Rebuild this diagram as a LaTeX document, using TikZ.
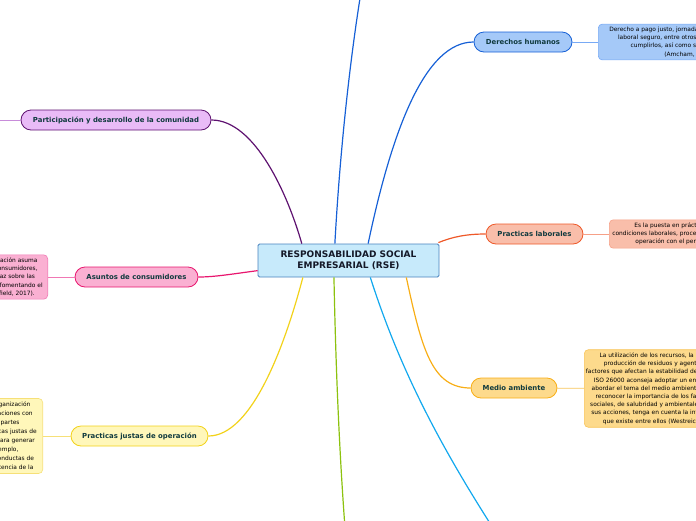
\documentclass[tikz,border=0pt]{standalone}
\usepackage{fontspec}
\setmainfont{DejaVu Sans}
\usetikzlibrary{calc}
\definecolor{rootfill}{RGB}{199, 234, 251}
\definecolor{rootborder}{RGB}{72, 130, 190}
\definecolor{roottext}{RGB}{20, 24, 40}
\definecolor{topictext}{RGB}{16, 58, 62}
\definecolor{dhcolor}{RGB}{22, 96, 214}
\definecolor{dhfill}{RGB}{165, 201, 248}
\definecolor{dhnote}{RGB}{120, 170, 245}
\definecolor{plcolor}{RGB}{238, 88, 40}
\definecolor{plfill}{RGB}{249, 190, 170}
\definecolor{plnote}{RGB}{246, 160, 135}
\definecolor{macolor}{RGB}{248, 174, 22}
\definecolor{mafill}{RGB}{253, 218, 140}
\definecolor{manote}{RGB}{248, 196, 90}
\definecolor{pdcolor}{RGB}{94, 18, 112}
\definecolor{pdfill}{RGB}{233, 187, 247}
\definecolor{pdnote}{RGB}{200, 140, 218}
\definecolor{accolor}{RGB}{232, 22, 110}
\definecolor{acfill}{RGB}{250, 176, 210}
\definecolor{acnote}{RGB}{240, 120, 180}
\definecolor{pjcolor}{RGB}{242, 210, 26}
\definecolor{pjfill}{RGB}{255, 247, 186}
\definecolor{pjnote}{RGB}{246, 224, 120}
\definecolor{greencolor}{RGB}{140, 194, 14}
\definecolor{skycolor}{RGB}{18, 168, 238}
\tikzset{
rootbox/.style={
  draw=rootborder,
  fill=rootfill,
  line width=0.8pt,
  rounded corners=1.5pt,
  minimum width=181pt,
  minimum height=33pt,
  align=center,
  font=\fontsize{9}{11}\selectfont\bfseries,
  text=roottext
},
topic/.style={
  rounded corners=10pt,
  minimum height=20pt,
  inner xsep=3pt,
  line width=0.8pt,
  font=\fontsize{6.9}{8}\selectfont\bfseries,
  text=topictext
},
notebox/.style={
  rounded corners=4pt,
  line width=0.6pt,
  align=center,
  inner xsep=5pt,
  inner ysep=3pt,
  font=\fontsize{5.9}{8.2}\selectfont,
  text=black
},
branch/.style={
  line width=1.2pt
},
twig/.style={
  line width=0.7pt
}
}
\begin{document}
\begin{tikzpicture}[x=1pt, y=-1pt]
  \useasboundingbox (0,0) rectangle (696,520);
  \clip (0,0) rectangle (696,520);

  % central topic
  \node[rootbox] (rse) at (348.5,260.5) {RESPONSABILIDAD SOCIAL\\EMPRESARIAL (RSE)};

  % free ends of the branches that leave the picture
  \coordinate (topend) at (361,-8);
  \coordinate (greenend) at (345,528);
  \coordinate (skyend) at (493,528);
  \coordinate (pdend) at (-5,120);

  % Derechos humanos
  \node[topic, draw=dhcolor, fill=dhfill, minimum width=98pt] (dh) at (523,42) {Derechos humanos};
  \node[notebox, draw=dhnote, fill=dhfill, anchor=west, inner xsep=11pt] (dhnote) at (598,42)
    {Derecho a pago justo, jornada laboral digna, ambiente\\laboral seguro, entre otros. Las empresas deben\\cumplirlos, así como su cadena de valor\\(Amcham, 2017).};

  % Practicas laborales
  \node[topic, draw=plcolor, fill=plfill, minimum width=97pt] (pl) at (534.5,234) {Practicas laborales};
  \node[notebox, draw=plnote, fill=plfill, anchor=west, inner xsep=3pt] (plnote) at (609,234)
    {Es la puesta en práctica de políticas en\\condiciones laborales, procedimientos y relaciones de\\operación con el personal (ISO, 2010).};

  % Medio ambiente
  \node[topic, draw=macolor, fill=mafill, minimum width=86pt] (ma) at (514,388) {Medio ambiente};
  \node[notebox, draw=manote, fill=mafill, anchor=west, inner xsep=1.5pt] (manote) at (584,388.5)
    {La utilización de los recursos, la localización,\\producción de residuos y agentes nocivos\\factores que afectan la estabilidad del ecosistema. La\\ISO 26000 aconseja adoptar un enfoque integral\\abordar el tema del medio ambiente, que permita\\reconocer la importancia de los factores éticos,\\sociales, de salubridad y ambientales derivados de\\sus acciones, tenga en cuenta la interrelación que\\que existe entre ellos (Westreicher, 2017).};

  % Participacion y desarrollo de la comunidad
  \node[topic, draw=pdcolor, fill=pdfill, minimum width=190pt] (pd) at (116,120) {Participación y desarrollo de la comunidad};

  % Asuntos de consumidores
  \node[topic, draw=accolor, fill=acfill, minimum width=123pt] (ac) at (136.5,277) {Asuntos de consumidores};
  \node[notebox, draw=acnote, fill=acfill, anchor=east] (acnote) at (48,277)
    {Es necesario que la organización asuma\\sus compromisos con los consumidores,\\brindando información veraz sobre las\\características del producto, fomentando el\\consumo sostenible (Schofield, 2017).};

  % Practicas justas de operacion
  \node[notebox, draw=pjnote, fill=pjfill, anchor=east, inner xsep=6pt, font=\fontsize{5.9}{9}\selectfont] (pjnote) at (43,436)
    {Se refiere a que la organización\\mantenga buenas relaciones con\\otras empresas y partes\\interesadas, con prácticas justas de\\operación que sirvan para generar\\confianza. Por ejemplo,\\evitar la corrupción, conductas de\\poca ética y la competencia de la};
  \node[topic, draw=pjcolor, fill=pjfill, minimum width=137pt] (pj) at (139.5,436) {Practicas justas de operación};

  % branches
  \draw[branch, dhcolor] ($(rse.north west)!0.425!(rse.north east)$) .. controls (340,150) and (350,60) .. (topend);
  \draw[branch, dhcolor] ($(rse.north west)!0.608!(rse.north east)$) .. controls (392,130) and (425,42) .. (dh.west);
  \draw[branch, pdcolor] ($(rse.north west)!0.243!(rse.north east)$) .. controls (288,195) and (255,120) .. (pd.east);
  \draw[branch, plcolor] ($(rse.north east)+(-1,-1)$) .. controls (452,237) and (466,234) .. (pl.west);
  \draw[branch, macolor] ($(rse.south west)!0.818!(rse.south east)$) .. controls (422,350) and (432,388) .. (ma.west);
  \draw[branch, skycolor] ($(rse.south west)!0.62!(rse.south east)$) .. controls (400,370) and (440,445) .. (skyend);
  \draw[branch, greencolor] ($(rse.south west)!0.42!(rse.south east)$) .. controls (336,380) and (340,460) .. (greenend);
  \draw[branch, pjcolor] ($(rse.south west)!0.249!(rse.south east)$) .. controls (285,345) and (252,436) .. (pj.east);
  \draw[branch, accolor] ($(rse.south west)!0.2!(rse.north west)$) .. controls (232,274) and (215,277) .. (ac.east);

  % notes
  \draw[twig, dhnote] (dh) -- (dhnote);
  \draw[twig, plnote] (pl) -- (plnote);
  \draw[twig, manote] (ma) -- (manote);
  \draw[twig, pdnote] (pd) -- (pdend);
  \draw[twig, acnote] (ac) -- (acnote);
  \draw[twig, pjnote] (pj) -- (pjnote);
\end{tikzpicture}
\end{document}
